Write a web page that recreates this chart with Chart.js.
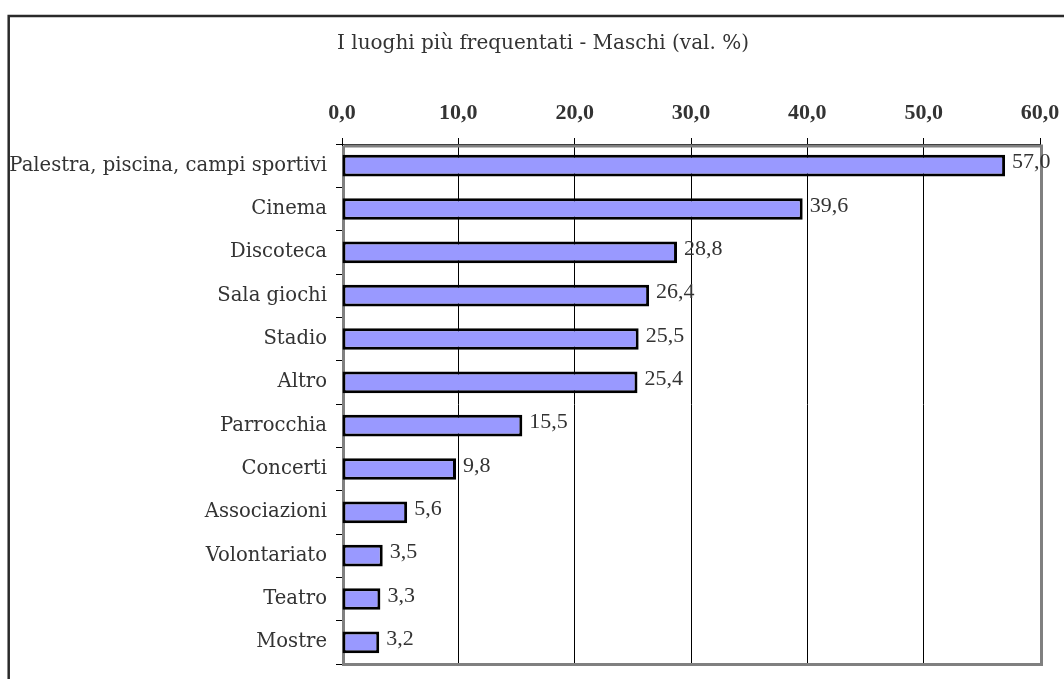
<!DOCTYPE html>
<html>
<head>
<meta charset="utf-8">
<script src="https://cdn.jsdelivr.net/npm/chart.js@4/dist/chart.umd.min.js"></script>
<style>
  html, body { margin: 0; padding: 0; background: #fff; }
  #wrap { width: 1064px; height: 679px; }
</style>
</head>
<body>
<div id="wrap"><canvas id="bar-chart" width="1064" height="679"></canvas></div>
<script>
// data
const categories = ['Palestra, piscina, campi sportivi', 'Cinema', 'Discoteca', 'Sala giochi', 'Stadio', 'Altro',
    'Parrocchia', 'Concerti', 'Associazioni', 'Volontariato', 'Teatro', 'Mostre'];
const values = [57.0, 39.6, 28.8, 26.4, 25.5, 25.4, 15.5, 9.8, 5.6, 3.5, 3.3, 3.2];
const axisMin = 0;
const axisMax = 60;
const axisStep = 10;
const chartTitle = 'I luoghi più frequentati - Maschi (val. %)';

const fmt = v => Number(v).toFixed(1).replace('.', ',');
const textColor = '#333';

// white page, dark outer frame and the title (centred like the original, not over the canvas)
const framePlugin = {
    id: 'frame',
    beforeDraw(chart) {
        const c = chart.ctx;
        c.save();
        c.fillStyle = '#fff';
        c.fillRect(0, 0, chart.width, chart.height);
        c.strokeStyle = '#2a2a2a';
        c.lineWidth = 2.5;
        c.strokeRect(8.7, 16, chart.width + 50, chart.height + 50);
        c.font = '20px "DejaVu Serif", serif';
        c.fillStyle = textColor;
        c.textAlign = 'center';
        c.textBaseline = 'middle';
        c.fillText(chartTitle, 543, 44);
        c.restore();
    }
};

// grey border round the plot area
const plotBorder = {
    id: 'plotBorder',
    beforeDatasetsDraw(chart) {
        const a = chart.chartArea;
        const c = chart.ctx;
        c.save();
        c.strokeStyle = '#808080';
        c.lineWidth = 3;
        c.beginPath();
        c.moveTo(a.left + 1.5, a.top + 2);
        c.lineTo(a.left + 1.5, a.bottom + 0.5);
        c.lineTo(a.right + 1.5, a.bottom + 0.5);
        c.lineTo(a.right + 1.5, a.top + 2);
        c.lineTo(a.left + 1.5, a.top + 2);
        c.stroke();
        c.restore();
    }
};

// value labels at the end of each bar
const valueLabels = {
    id: 'valueLabels',
    afterDatasetsDraw(chart) {
        const c = chart.ctx;
        const meta = chart.getDatasetMeta(0);
        c.save();
        c.font = '22px "Liberation Serif", serif';
        c.fillStyle = textColor;
        c.textAlign = 'left';
        c.textBaseline = 'middle';
        meta.data.forEach((bar, i) => {
            c.fillText(fmt(values[i]), bar.x + 7, bar.y - 3);
        });
        c.restore();
    }
};

const ctx = document.getElementById('bar-chart').getContext('2d');

const barChart = new Chart(ctx, {
    type: 'bar',
    data: {
        labels: categories,
        datasets: [{
            data: values,
            backgroundColor: '#9999ff',
            borderColor: '#000',
            borderWidth: 3,
            borderSkipped: false,
            barPercentage: 0.5,
            categoryPercentage: 1
        }]
    },
    options: {
        indexAxis: 'y',
        responsive: false,
        animation: false,
        devicePixelRatio: 1,
        layout: {
            padding: { left: 0, right: 24, top: 54, bottom: 15 }
        },
        plugins: {
            legend: { display: false },
            tooltip: { enabled: false },
            title: { display: false }
        },
        scales: {
            x: {
                position: 'top',
                min: axisMin,
                max: axisMax,
                afterFit(scale) {
                    scale.height = 90;
                    scale.paddingLeft = 0;
                    scale.paddingRight = 0;
                },
                ticks: {
                    stepSize: axisStep,
                    color: textColor,
                    padding: 11,
                    font: { family: '"Liberation Serif", serif', size: 22, weight: 'bold' },
                    callback: v => fmt(v)
                },
                grid: {
                    color: '#000',
                    lineWidth: 1,
                    tickLength: 6
                },
                border: { display: true, color: '#000', width: 1 }
            },
            y: {
                afterFit(scale) {
                    scale.width = 342;
                    scale.paddingTop = 0;
                    scale.paddingBottom = 0;
                },
                ticks: {
                    color: textColor,
                    padding: 9,
                    autoSkip: false,
                    font: { family: '"DejaVu Serif", serif', size: 19.6 }
                },
                grid: {
                    drawOnChartArea: false,
                    color: '#000',
                    tickLength: 6,
                    offset: true
                },
                border: { display: false }
            }
        }
    },
    plugins: [framePlugin, plotBorder, valueLabels]
});
</script>
</body>
</html>
